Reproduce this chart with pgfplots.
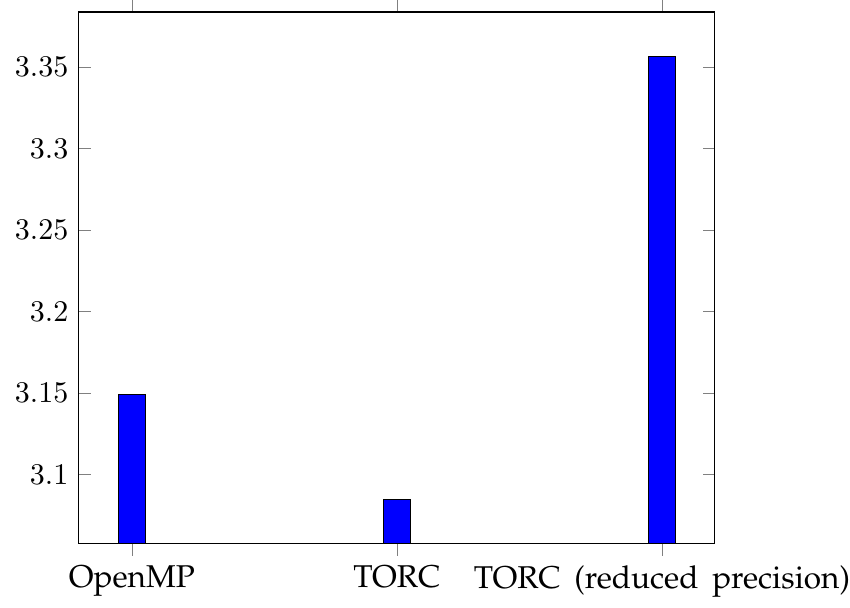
\documentclass[border=0pt,11pt]{standalone}
\usepackage[T1,TU]{fontenc}
\usepackage{pgfplots}
\pgfplotsset{compat=1.18}
% Palatino for the category names
\newcommand\pal{\fontencoding{T1}\fontfamily{ppl}\fontsize{11.5}{14}\selectfont\spaceskip=5pt plus 1pt\relax}
\begin{document}
\begin{tikzpicture}
\begin{axis}[
  scale only axis,
  width=232pt, height=194pt,
  ybar,
  symbolic x coords={OpenMP,TORC,TORC (reduced precision)},
  xtick=data,
  xticklabel style={font=\pal, inner xsep=0pt},
  ytick={3.1,3.15,3.2,3.25,3.3,3.35},
  yticklabels={3.1,3.15,3.2,3.25,3.3,3.35},
]
\addplot[fill=blue, draw=black] coordinates {
  (OpenMP,3.1492)
  (TORC,3.0847)
  (TORC (reduced precision),3.3567)
};
\end{axis}
\path ([xshift=-1.8pt]current bounding box.west);
\end{tikzpicture}
\end{document}
